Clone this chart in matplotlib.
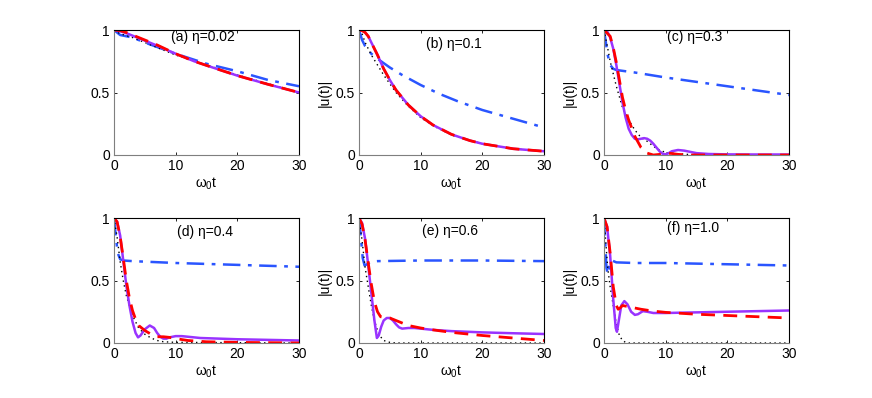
import matplotlib
matplotlib.use('Agg')
import matplotlib.pyplot as plt

plt.rcParams['font.family'] = ['Liberation Sans', 'DejaVu Sans']
plt.rcParams['mathtext.fontset'] = 'custom'
plt.rcParams['mathtext.rm'] = 'Liberation Sans'
plt.rcParams['mathtext.it'] = 'Liberation Sans'
plt.rcParams['font.size'] = 10

# panel titles
titles = ['(a) η=0.02', '(b) η=0.1', '(c) η=0.3', '(d) η=0.4', '(e) η=0.6', '(f) η=1.0']
title_pos = [(0.48, 0.94), (0.515, 0.89), (0.49, 0.94), (0.49, 0.89), (0.49, 0.90), (0.48, 0.92)]
show_ylabel = [False, True, True, False, True, True]

# data: (t, |u|) per curve, per panel
# black dotted
blk_t = [
    [0, 1, 3, 5, 10, 15, 20, 25, 30],
    [0, 0.5, 1, 2, 3, 4, 5, 6, 8, 10, 12, 15, 20, 25, 30],
    [0, 0.5, 1, 2, 3, 4, 5, 6, 7, 8, 9, 10, 12, 15, 30],
    [0, 0.5, 1, 1.5, 2, 3, 4, 5, 6, 7, 8, 10, 30],
    [0, 0.5, 1, 1.5, 2, 2.5, 3, 3.5, 4, 5, 6, 30],
    [0, 0.3, 0.6, 1, 1.5, 2, 2.5, 3, 3.5, 4, 30],
]
blk_y = [
    [1, 0.97, 0.94, 0.9, 0.8, 0.72, 0.64, 0.57, 0.5],
    [1, 0.97, 0.9, 0.8, 0.72, 0.64, 0.57, 0.5, 0.39, 0.3, 0.235, 0.16, 0.09, 0.05, 0.03],
    [1, 0.88, 0.75, 0.55, 0.38, 0.28, 0.2, 0.14, 0.11, 0.07, 0.04, 0.02, 0.01, 0.0, 0.0],
    [1, 0.85, 0.65, 0.5, 0.38, 0.22, 0.12, 0.07, 0.04, 0.02, 0.01, 0.005, 0.0],
    [1, 0.82, 0.6, 0.45, 0.3, 0.18, 0.1, 0.05, 0.02, 0.005, 0.0, 0.0],
    [1, 0.8, 0.6, 0.45, 0.3, 0.15, 0.06, 0.02, 0.005, 0.0, 0.0],
]
# blue dash-dot
blu_t = [
    [0, 1, 3, 5, 10, 15, 20, 25, 30],
    [0, 0.5, 1, 2, 3, 5, 7, 10, 13, 16, 20, 25, 30],
    [0, 0.3, 0.6, 1, 1.5, 2, 5, 10, 15, 20, 25, 30],
    [0, 0.3, 0.6, 1, 1.5, 3, 10, 20, 30],
    [0, 0.3, 0.6, 0.9, 1.3, 2, 3, 10, 20, 30],
    [0, 0.2, 0.4, 0.6, 0.8, 1.0, 1.3, 2, 5, 10, 20, 30],
]
blu_y = [
    [1, 0.96, 0.94, 0.9, 0.81, 0.73, 0.67, 0.6, 0.55],
    [1, 0.92, 0.87, 0.81, 0.77, 0.70, 0.64, 0.56, 0.49, 0.43, 0.36, 0.29, 0.22],
    [1, 0.9, 0.8, 0.72, 0.69, 0.68, 0.66, 0.62, 0.585, 0.55, 0.515, 0.48],
    [1, 0.85, 0.72, 0.67, 0.66, 0.655, 0.64, 0.625, 0.61],
    [1, 0.85, 0.68, 0.62, 0.63, 0.65, 0.655, 0.66, 0.66, 0.655],
    [1, 0.8, 0.6, 0.55, 0.6, 0.65, 0.66, 0.645, 0.64, 0.64, 0.63, 0.62],
]
# red dashed
red_t = [
    [0, 1, 2, 3, 5, 7, 10, 13, 16, 20, 25, 30],
    [0, 0.5, 1, 1.5, 2, 3, 4, 5, 6, 8, 10, 12, 15, 18, 20, 25, 30],
    [0, 1, 1.5, 2, 2.5, 3, 3.5, 4, 5, 6, 7, 8, 9, 10, 11, 12, 14, 20, 30],
    [0, 0.5, 1, 1.5, 2, 2.5, 3, 3.5, 4, 5, 6, 7, 8, 9, 10, 12, 15, 20, 30],
    [0, 0.5, 1, 1.5, 2, 2.5, 3, 3.5, 4, 5, 6, 7, 8, 10, 12, 15, 20, 25, 30],
    [0, 0.5, 1, 1.5, 2, 2.3, 2.6, 3, 4, 6, 8, 10, 15, 20, 25, 30],
]
red_y = [
    [1, 0.995, 0.98, 0.96, 0.92, 0.88, 0.81, 0.75, 0.70, 0.635, 0.565, 0.5],
    [1, 0.995, 0.98, 0.95, 0.9, 0.8, 0.69, 0.6, 0.52, 0.4, 0.31, 0.24, 0.165, 0.115, 0.09, 0.05, 0.03],
    [1, 0.95, 0.86, 0.74, 0.6, 0.46, 0.36, 0.28, 0.15, 0.06, 0.015, 0.0, 0.005, 0.015, 0.012, 0.005, 0.0, 0.0, 0.0],
    [1, 0.97, 0.85, 0.68, 0.5, 0.36, 0.26, 0.19, 0.14, 0.1, 0.07, 0.05, 0.05, 0.045, 0.035, 0.02, 0.01, 0.005, 0.0],
    [1, 0.95, 0.82, 0.64, 0.47, 0.33, 0.25, 0.21, 0.205, 0.2, 0.18, 0.16, 0.14, 0.12, 0.105, 0.085, 0.06, 0.04, 0.02],
    [1, 0.93, 0.72, 0.45, 0.3, 0.27, 0.28, 0.3, 0.29, 0.27, 0.255, 0.245, 0.23, 0.22, 0.21, 0.2],
]
# purple solid
pur_t = [
    [0, 1, 2, 3, 5, 7, 10, 13, 16, 20, 25, 30],
    [0, 0.5, 1, 1.5, 2, 3, 4, 5, 6, 8, 10, 12, 15, 18, 20, 25, 30],
    [0, 0.5, 1, 1.5, 2, 2.5, 3, 3.5, 4, 4.5, 5, 5.5, 6, 6.5, 7, 7.5, 8, 8.5, 9, 9.5, 10, 10.5, 11, 12, 13, 14, 15, 17, 20, 25, 30],
    [0, 0.5, 1, 1.5, 2, 2.5, 3, 3.5, 3.9, 4.3, 5, 5.8, 6.5, 7, 7.5, 8, 8.5, 9, 10, 11, 12, 14, 17, 20, 25, 30],
    [0, 0.5, 1, 1.5, 2, 2.5, 2.9, 3.2, 3.6, 4, 4.5, 5, 5.5, 6, 6.5, 7, 8, 9, 10, 12, 15, 20, 25, 30],
    [0, 0.5, 1, 1.5, 1.9, 2.1, 2.4, 2.8, 3.3, 3.8, 4.4, 5, 5.5, 6.3, 7, 8, 9, 10, 15, 20, 25, 30],
]
pur_y = [
    [1, 0.99, 0.975, 0.955, 0.915, 0.875, 0.81, 0.75, 0.70, 0.635, 0.565, 0.5],
    [1, 0.995, 0.98, 0.95, 0.9, 0.8, 0.69, 0.6, 0.52, 0.4, 0.31, 0.24, 0.165, 0.115, 0.09, 0.05, 0.03],
    [1, 0.99, 0.94, 0.85, 0.72, 0.57, 0.42, 0.3, 0.21, 0.16, 0.13, 0.125, 0.13, 0.135, 0.13, 0.115, 0.09, 0.06, 0.03, 0.01, 0.005, 0.015, 0.03, 0.04, 0.035, 0.025, 0.015, 0.008, 0.005, 0.004, 0.004],
    [1, 0.97, 0.86, 0.66, 0.46, 0.3, 0.17, 0.08, 0.045, 0.06, 0.11, 0.14, 0.12, 0.08, 0.05, 0.035, 0.035, 0.045, 0.055, 0.055, 0.05, 0.04, 0.035, 0.03, 0.025, 0.02],
    [1, 0.96, 0.83, 0.62, 0.4, 0.18, 0.04, 0.06, 0.13, 0.18, 0.2, 0.2, 0.18, 0.15, 0.125, 0.115, 0.12, 0.12, 0.115, 0.105, 0.095, 0.085, 0.078, 0.072],
    [1, 0.93, 0.7, 0.35, 0.12, 0.09, 0.18, 0.3, 0.335, 0.31, 0.25, 0.225, 0.23, 0.255, 0.25, 0.24, 0.24, 0.24, 0.245, 0.25, 0.255, 0.26],
]

fig = plt.figure(figsize=(8.72, 3.98), dpi=100)
W, H = 872.0, 398.0
lefts = [114, 359, 604]
bottoms = [155, 343]

for i in range(6):
    r, c = divmod(i, 3)
    ax = fig.add_axes([lefts[c] / W, 1 - bottoms[r] / H, 185 / W, 125 / H])
    ax.plot(blu_t[i], blu_y[i], color='#2a55ff', lw=1.8, dashes=(7, 3, 1.5, 3))
    ax.plot(blk_t[i], blk_y[i], color='black', lw=1.0, dashes=(1, 2.5))
    ax.plot(pur_t[i], pur_y[i], color='#9933ff', lw=1.8)
    ax.plot(red_t[i], red_y[i], color='red', lw=2.0, dashes=(5, 3))
    ax.set_xlim(0, 30)
    ax.set_ylim(0, 1)
    ax.set_xticks([0, 10, 20, 30])
    ax.set_yticks([0, 0.5, 1])
    ax.set_yticklabels(['0', '0.5', '1'])
    ax.tick_params(direction='in', length=2.5, width=0.6, top=True, right=True, pad=3)
    for s in ['left', 'bottom']:
        ax.spines[s].set_color('#7f7f7f')
    for s in ['top', 'right']:
        ax.spines[s].set_color('black')
    for s in ax.spines.values():
        s.set_linewidth(0.8)
    ax.set_xlabel('ω$_0$t', labelpad=2)
    if show_ylabel[i]:
        ax.set_ylabel('|u(t)|', labelpad=3)
    ax.text(title_pos[i][0], title_pos[i][1], titles[i], transform=ax.transAxes,
            ha='center', va='center')

fig.savefig('out.png', dpi=100)
